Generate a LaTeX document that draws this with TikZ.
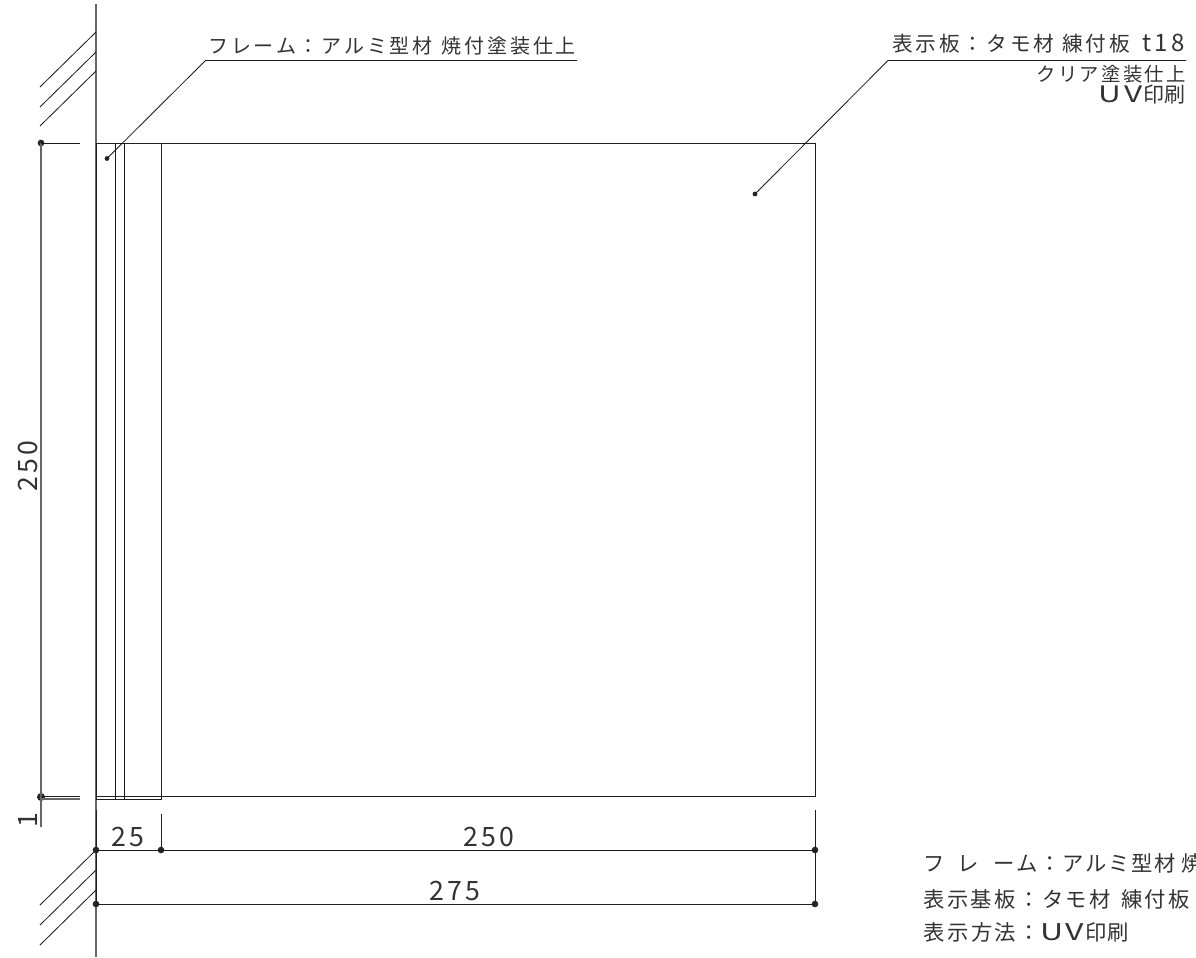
\documentclass[tikz,border=0pt]{standalone}
\usepackage{fontspec}
\usepackage{graphicx}
\newfontfamily\cjk{Noto Sans CJK JP}
\newcommand\jt[2]{\fontsize{#1}{#1}\selectfont\cjk\addfontfeature{LetterSpace=#2}}
\newcommand\wideuv{\scalebox{1.5}[1.08]{U}\hspace{2pt}\scalebox{1.5}[1.08]{V}\hspace{1.2pt}}
\tikzset{
 part/.style={draw=black!88,line width=0.7pt},
 thinl/.style={draw=black!90,line width=0.62pt},
 wall/.style={draw=black!60,line width=0.8pt},
 pt/.style={circle,fill=black!85,inner sep=0pt,minimum size=5pt},
 sp/.style={circle,fill=black!85,inner sep=0pt,minimum size=3.6pt},
 lbl/.style={inner sep=0pt,text=black!80},
}
\begin{document}
\begin{tikzpicture}[x=0.75pt,y=-0.75pt]
\useasboundingbox (0,0) rectangle (1196,957);
\clip (0,0) rectangle (1196,957);
% wall
\coordinate (wt) at (96,4); \coordinate (wb) at (96,957);
\draw[wall] (wt) -- (wb);
\foreach \a/\b in {32/87,52/107,71/126,850/905,870/925,890/945}{
 \coordinate (h1) at (96,\a); \coordinate (h2) at (40,\b);
 \draw[thinl] (h1) -- (h2);
}
% body
\coordinate (r1) at (96,143); \coordinate (r2) at (815,796);
\draw[part] (r1) rectangle (r2);
\coordinate (f1) at (96,143); \coordinate (f2) at (161,799);
\draw[part] (f1) rectangle (f2);
\coordinate (a1) at (115.4,143); \coordinate (a2) at (115.4,799);
\coordinate (b1) at (124.4,143); \coordinate (b2) at (124.4,799);
\draw[thinl] (a1) -- (a2); \draw[thinl] (b1) -- (b2);
% leader lines
\node[sp] (d1) at (107,158.5) {};
\coordinate (k1) at (205.5,60.5); \coordinate (e1) at (577,60.5);
\draw[thinl] (d1.center) -- (k1) -- (e1);
\node[sp] (d2) at (755,194) {};
\coordinate (k2) at (888,60.5); \coordinate (e2) at (1186,60.5);
\draw[thinl] (d2.center) -- (k2) -- (e2);
% vertical dimension
\node[sp,minimum size=5pt] (v1) at (41,143) {};
\node[pt,minimum size=6pt] (v2) at (41,797) {};
\coordinate (ve) at (41,827);
\coordinate (x1) at (80,143); \coordinate (x2) at (80,796); \coordinate (x3) at (80,799);
\coordinate (x2s) at (41,796); \coordinate (x3s) at (41,799);
\draw[wall] (v1.center) -- (ve);
\draw[thinl] (v1.center) -- (x1);
\draw[part] (x2s) -- (x2);
\draw[wall] (x3s) -- (x3);
% horizontal dimensions
\node[pt] (h0) at (96,850) {};
\node[pt] (h25) at (161,850) {};
\node[pt] (h250) at (815,850) {};
\node[pt] (g0) at (96,904) {};
\node[pt] (g275) at (815,904) {};
\coordinate (t0) at (96,810); \coordinate (t1) at (161,814); \coordinate (t2) at (815,810);
\draw[thinl] (h0.center) -- (h250.center);
\draw[part] (g0.center) -- (g275.center);
\draw[part] (t0) -- (g0.center);
\draw[part] (t1) -- (h25.center);
\draw[part] (t2) -- (g275.center);
% dimension texts
\node[lbl,anchor=base west] (n25) at (111,846) {\jt{20}{12}25};
\node[lbl,anchor=base west] (n250) at (463,846) {\jt{20}{12}250};
\node[lbl,anchor=base west] (n275) at (429,900) {\jt{20}{12}275};
\node[lbl,anchor=base west,rotate=90] (nv) at (37,492) {\jt{20}{12}250};
\node[lbl,anchor=base,rotate=90] (n1) at (37,820) {\jt{20}{0}1};
% labels
\node[lbl,anchor=base west] (l1) at (208,53) {\jt{15}{14}フレーム：アルミ型材\hspace{7pt}焼付塗装仕上};
\node[lbl,anchor=base west] (l2) at (892,51) {\jt{15.5}{14}表示板：タモ材\hspace{6pt}練付板\hspace{9pt}{\fontsize{18}{18}\selectfont t18}};
\node[lbl,anchor=base east] (l3) at (1186,81) {\jt{14.5}{12}クリア塗装仕上};
\node[lbl,anchor=base east] (l4) at (1186,102) {\jt{15.75}{0}\wideuv 印刷};
\node[lbl,anchor=base west] (l5) at (923,871) {\jt{16}{8}フ\hspace{10pt}レ\hspace{11pt}ーム：アルミ型材\hspace{4pt}焼};
\node[lbl,anchor=base west] (l6) at (923,907) {\jt{16}{11.5}表示基板：タモ材\hspace{7.5pt}練付板};
\node[lbl,anchor=base west] (l7) at (923,940) {\jt{16}{12}表示方法：\addfontfeature{LetterSpace=0}\wideuv 印刷};
\end{tikzpicture}
\end{document}
